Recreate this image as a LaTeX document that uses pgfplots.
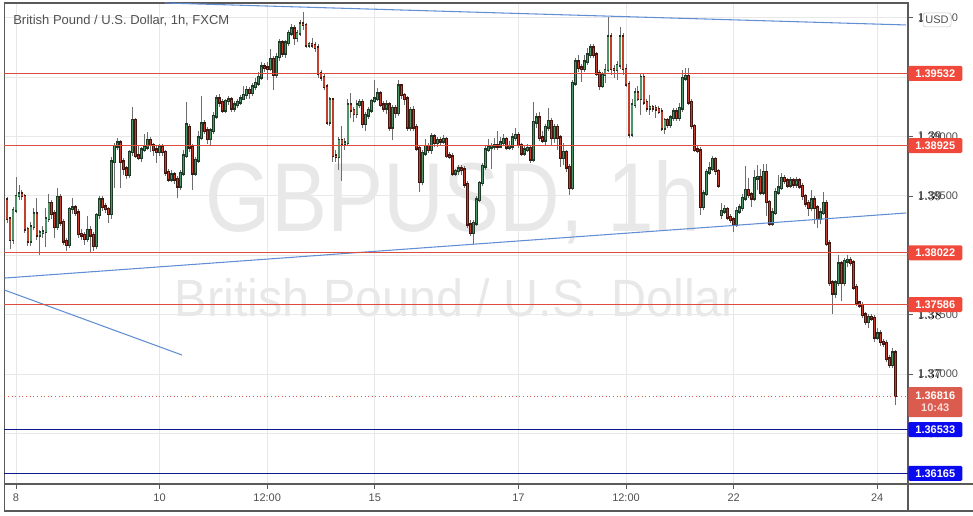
\documentclass[border=0pt]{standalone}
\usepackage{graphicx}
\usepackage{pgfplots}
\pgfplotsset{compat=1.18}
\usepackage{pgfplotstable}
\usepackage{fontspec}
\setmainfont{Liberation Sans}

\definecolor{upfill}{RGB}{76,150,104}
\definecolor{upedge}{RGB}{28,58,38}
\definecolor{dnfill}{RGB}{196,62,46}
\definecolor{dnedge}{RGB}{70,20,14}
\definecolor{wick}{RGB}{110,110,110}
\definecolor{srred}{RGB}{222,76,62}
\definecolor{boxred}{RGB}{240,72,58}
\definecolor{navyline}{RGB}{14,26,140}
\definecolor{boxblue}{RGB}{10,10,240}
\definecolor{trend}{RGB}{98,142,212}
\definecolor{lastbox}{RGB}{219,92,78}
\definecolor{txt}{RGB}{80,80,80}
\definecolor{framec}{RGB}{90,90,90}
\definecolor{gridc}{RGB}{232,232,232}
\definecolor{wmark}{RGB}{232,232,232}

\newcommand\lab{\fontsize{8.25}{9.9}\selectfont}

% hourly candles, x = hours from 8th 00:00 (weekends skipped)
\pgfplotstableread{
x o c hi lo
-3 1.3847 1.3831 1.3849 1.3827
-2 1.3831 1.3813 1.3832 1.3805
-1 1.3813 1.3838 1.3841 1.3810
0 1.3838 1.3850 1.3866 1.3836
1 1.3850 1.3852 1.3859 1.3847
2 1.3852 1.3850 1.3855 1.3847
3 1.3850 1.3822 1.3852 1.3819
4 1.3822 1.3812 1.3824 1.3808
5 1.3812 1.3824 1.3828 1.3808
6 1.3824 1.3835 1.3840 1.3821
7 1.3835 1.3817 1.3848 1.3813
8 1.3817 1.3819 1.3821 1.3800
9 1.3819 1.3820 1.3825 1.3815
10 1.3820 1.3831 1.3840 1.3807
11 1.3831 1.3844 1.3852 1.3828
12 1.3844 1.3835 1.3847 1.3831
13 1.3835 1.3824 1.3838 1.3815
14 1.3824 1.3849 1.3857 1.3821
15 1.3849 1.3828 1.3852 1.3825
16 1.3828 1.3812 1.3831 1.3809
17 1.3812 1.3809 1.3815 1.3804
18 1.3809 1.3839 1.3841 1.3806
19 1.3839 1.3840 1.3848 1.3835
20 1.3840 1.3836 1.3842 1.3833
21 1.3836 1.3818 1.3839 1.3815
22 1.3818 1.3817 1.3822 1.3813
23 1.3817 1.3814 1.3820 1.3809
24 1.3814 1.3821 1.3833 1.3811
25 1.3821 1.3817 1.3825 1.3802
26 1.3817 1.3808 1.3820 1.3804
27 1.3808 1.3834 1.3836 1.3805
28 1.3834 1.3847 1.3850 1.3831
29 1.3847 1.3841 1.3850 1.3837
30 1.3841 1.3839 1.3844 1.3836
31 1.3839 1.3835 1.3841 1.3827
32 1.3835 1.3879 1.3883 1.3831
33 1.3879 1.3892 1.3895 1.3857
34 1.3892 1.3895 1.3899 1.3889
35 1.3895 1.3879 1.3897 1.3857
36 1.3879 1.3873 1.3882 1.3868
37 1.3873 1.3868 1.3875 1.3864
38 1.3868 1.3887 1.3889 1.3865
39 1.3887 1.3914 1.3925 1.3884
40 1.3914 1.3884 1.3916 1.3882
41 1.3884 1.3882 1.3893 1.3880
42 1.3882 1.3889 1.3891 1.3879
43 1.3889 1.3891 1.3902 1.3887
44 1.3891 1.3897 1.3904 1.3889
45 1.3897 1.3893 1.3900 1.3887
46 1.3893 1.3889 1.3895 1.3884
47 1.3889 1.3887 1.3892 1.3878
48 1.3887 1.3891 1.3894 1.3884
49 1.3891 1.3887 1.3894 1.3884
50 1.3887 1.3870 1.3889 1.3867
51 1.3870 1.3864 1.3873 1.3862
52 1.3864 1.3868 1.3872 1.3862
53 1.3868 1.3864 1.3870 1.3860
54 1.3864 1.3858 1.3867 1.3848
55 1.3858 1.3869 1.3872 1.3855
56 1.3869 1.3884 1.3889 1.3867
57 1.3884 1.3910 1.3929 1.3882
58 1.3908 1.3891 1.3911 1.3887
59 1.3891 1.3869 1.3894 1.3855
60 1.3869 1.3880 1.3883 1.3867
61 1.3880 1.3899 1.3905 1.3878
62 1.3899 1.3911 1.3934 1.3897
63 1.3911 1.3905 1.3914 1.3902
64 1.3905 1.3898 1.3908 1.3894
65 1.3898 1.3905 1.3907 1.3892
66 1.3905 1.3917 1.3921 1.3902
67 1.3917 1.3932 1.3935 1.3915
68 1.3932 1.3929 1.3936 1.3925
69 1.3929 1.3922 1.3932 1.3920
70 1.3922 1.3930 1.3932 1.3920
71 1.3930 1.3931 1.3934 1.3927
72 1.3931 1.3924 1.3933 1.3921
73 1.3924 1.3927 1.3930 1.3921
74 1.3927 1.3929 1.3932 1.3924
75 1.3929 1.3932 1.3935 1.3927
76 1.3932 1.3935 1.3943 1.3931
77 1.3935 1.3939 1.3943 1.3932
78 1.3939 1.3937 1.3942 1.3932
79 1.3937 1.3942 1.3945 1.3934
80 1.3942 1.3945 1.3949 1.3939
81 1.3945 1.3950 1.3954 1.3943
82 1.3950 1.3959 1.3963 1.3948
83 1.3959 1.3958 1.3962 1.3954
84 1.3958 1.3957 1.3963 1.3948
85 1.3957 1.3965 1.3974 1.3955
86 1.3965 1.3952 1.3968 1.3939
87 1.3952 1.3967 1.3970 1.3949
88 1.3967 1.3979 1.3982 1.3964
89 1.3979 1.3970 1.3981 1.3967
90 1.3970 1.3979 1.3981 1.3966
91 1.3979 1.3987 1.3990 1.3976
92 1.3987 1.3991 1.3995 1.3985
93 1.3991 1.3983 1.3994 1.3977
94 1.3983 1.3987 1.3990 1.3980
95 1.3987 1.3995 1.3998 1.3985
96 1.3995 1.3994 1.4005 1.3990
97 1.3994 1.3977 1.3996 1.3975
98 1.3977 1.3978 1.3980 1.3975
99 1.3978 1.3977 1.3983 1.3975
100 1.3977 1.3975 1.3980 1.3971
101 1.3975 1.3953 1.3978 1.3949
102 1.3953 1.3950 1.3956 1.3947
103 1.3950 1.3942 1.3953 1.3939
104 1.3942 1.3912 1.3944 1.3910
105 1.3912 1.3931 1.3933 1.3909
106 1.3931 1.3884 1.3932 1.3879
107 1.3884 1.3883 1.3889 1.3879
108 1.3883 1.3897 1.3900 1.3872
109 1.3897 1.3894 1.3909 1.3863
110 1.3894 1.3895 1.3899 1.3889
111 1.3895 1.3927 1.3932 1.3892
112 1.3927 1.3922 1.3937 1.3916
113 1.3922 1.3919 1.3925 1.3912
114 1.3919 1.3927 1.3931 1.3916
115 1.3927 1.3929 1.3932 1.3924
116 1.3929 1.3911 1.3932 1.3907
117 1.3911 1.3918 1.3921 1.3905
118 1.3918 1.3922 1.3925 1.3915
119 1.3922 1.3930 1.3932 1.3920
120 1.3930 1.3932 1.3948 1.3928
121 1.3932 1.3936 1.3941 1.3930
122 1.3936 1.3927 1.3938 1.3925
123 1.3927 1.3924 1.3930 1.3921
124 1.3924 1.3927 1.3931 1.3919
125 1.3927 1.3908 1.3929 1.3905
126 1.3908 1.3924 1.3927 1.3897
127 1.3924 1.3920 1.3927 1.3916
128 1.3920 1.3943 1.3948 1.3917
129 1.3943 1.3935 1.3944 1.3932
130 1.3935 1.3932 1.3937 1.3927
131 1.3932 1.3908 1.3934 1.3905
132 1.3908 1.3922 1.3925 1.3905
133 1.3922 1.3908 1.3926 1.3905
134 1.3908 1.3890 1.3911 1.3888
135 1.3890 1.3862 1.3893 1.3853
136 1.3862 1.3886 1.3889 1.3859
137 1.3886 1.3892 1.3898 1.3884
138 1.3892 1.3889 1.3895 1.3886
139 1.3889 1.3900 1.3903 1.3885
140 1.3900 1.3895 1.3902 1.3891
141 1.3895 1.3897 1.3900 1.3891
142 1.3897 1.3896 1.3900 1.3892
143 1.3896 1.3898 1.3901 1.3894
144 1.3898 1.3884 1.3900 1.3882
145 1.3884 1.3883 1.3887 1.3881
146 1.3883 1.3869 1.3886 1.3867
147 1.3869 1.3871 1.3873 1.3867
148 1.3871 1.3873 1.3876 1.3868
149 1.3873 1.3872 1.3876 1.3868
150 1.3872 1.3860 1.3875 1.3857
151 1.3860 1.3826 1.3863 1.3823
152 1.3826 1.3819 1.3830 1.3816
153 1.3819 1.3827 1.3830 1.3810
154 1.3827 1.3847 1.3850 1.3825
155 1.3847 1.3861 1.3863 1.3845
156 1.3861 1.3875 1.3878 1.3858
157 1.3875 1.3889 1.3893 1.3872
158 1.3889 1.3891 1.3898 1.3887
159 1.3891 1.3892 1.3895 1.3873
160 1.3892 1.3893 1.3899 1.3889
161 1.3893 1.3892 1.3905 1.3889
162 1.3892 1.3895 1.3900 1.3890
163 1.3895 1.3898 1.3902 1.3892
164 1.3898 1.3891 1.3900 1.3889
165 1.3891 1.3892 1.3896 1.3889
166 1.3892 1.3899 1.3903 1.3889
167 1.3899 1.3901 1.3907 1.3896
168 1.3901 1.3893 1.3904 1.3890
169 1.3893 1.3886 1.3895 1.3884
170 1.3886 1.3889 1.3892 1.3884
171 1.3889 1.3890 1.3894 1.3887
172 1.3890 1.3881 1.3893 1.3878
173 1.3881 1.3912 1.3929 1.3879
174 1.3912 1.3916 1.3920 1.3907
175 1.3916 1.3899 1.3921 1.3896
176 1.3899 1.3897 1.3905 1.3895
177 1.3897 1.3908 1.3911 1.3893
178 1.3908 1.3913 1.3924 1.3905
179 1.3913 1.3899 1.3916 1.3893
180 1.3899 1.3908 1.3911 1.3895
181 1.3908 1.3899 1.3911 1.3889
182 1.3899 1.3882 1.3901 1.3874
183 1.3882 1.3887 1.3895 1.3876
184 1.3887 1.3874 1.3889 1.3870
185 1.3874 1.3857 1.3877 1.3851
186 1.3857 1.3945 1.3948 1.3855
187 1.3945 1.3963 1.3966 1.3943
188 1.3963 1.3958 1.3969 1.3954
189 1.3958 1.3957 1.3961 1.3946
190 1.3957 1.3963 1.3969 1.3954
191 1.3963 1.3969 1.3975 1.3960
192 1.3969 1.3975 1.3978 1.3966
193 1.3975 1.3969 1.3978 1.3966
194 1.3969 1.3953 1.3971 1.3951
195 1.3953 1.3943 1.3956 1.3939
196 1.3943 1.3952 1.3954 1.3941
197 1.3952 1.3956 1.3961 1.3945
198 1.3956 1.3984 1.4001 1.3954
199 1.3984 1.3957 1.3987 1.3952
200 1.3957 1.3956 1.3960 1.3949
201 1.3956 1.3960 1.3964 1.3948
202 1.3960 1.3984 1.3992 1.3957
203 1.3984 1.3957 1.3987 1.3952
204 1.3957 1.3944 1.3961 1.3942
205 1.3944 1.3902 1.3947 1.3899
206 1.3902 1.3927 1.3932 1.3900
207 1.3927 1.3937 1.3941 1.3924
208 1.3937 1.3932 1.3943 1.3930
209 1.3932 1.3950 1.3953 1.3918
210 1.3950 1.3929 1.3953 1.3927
211 1.3929 1.3924 1.3932 1.3921
212 1.3924 1.3925 1.3935 1.3918
213 1.3925 1.3924 1.3927 1.3921
214 1.3924 1.3923 1.3927 1.3916
215 1.3923 1.3921 1.3926 1.3919
216 1.3921 1.3907 1.3924 1.3905
217 1.3907 1.3914 1.3916 1.3902
218 1.3914 1.3910 1.3916 1.3907
219 1.3910 1.3916 1.3918 1.3907
220 1.3916 1.3921 1.3924 1.3913
221 1.3921 1.3916 1.3924 1.3913
222 1.3916 1.3924 1.3928 1.3913
223 1.3924 1.3949 1.3956 1.3921
224 1.3949 1.3951 1.3958 1.3947
225 1.3951 1.3929 1.3958 1.3927
226 1.3929 1.3909 1.3932 1.3906
227 1.3909 1.3889 1.3911 1.3887
228 1.3889 1.3888 1.3893 1.3886
229 1.3888 1.3841 1.3891 1.3834
230 1.3841 1.3852 1.3855 1.3838
231 1.3852 1.3870 1.3873 1.3850
232 1.3870 1.3873 1.3879 1.3868
233 1.3873 1.3881 1.3884 1.3871
234 1.3881 1.3871 1.3883 1.3868
235 1.3871 1.3859 1.3873 1.3857
236 1.3834 1.3837 1.3844 1.3831
237 1.3837 1.3839 1.3842 1.3835
238 1.3839 1.3832 1.3841 1.3830
239 1.3832 1.3830 1.3835 1.3827
240 1.3830 1.3826 1.3832 1.3820
241 1.3826 1.3837 1.3841 1.3824
242 1.3837 1.3840 1.3843 1.3835
243 1.3840 1.3848 1.3852 1.3837
244 1.3848 1.3855 1.3875 1.3846
245 1.3855 1.3851 1.3865 1.3848
246 1.3851 1.3848 1.3853 1.3841
247 1.3848 1.3865 1.3872 1.3846
248 1.3865 1.3866 1.3876 1.3855
249 1.3866 1.3853 1.3873 1.3851
250 1.3853 1.3870 1.3877 1.3851
251 1.3870 1.3845 1.3877 1.3833
252 1.3845 1.3827 1.3847 1.3825
253 1.3827 1.3836 1.3840 1.3825
254 1.3836 1.3853 1.3857 1.3834
255 1.3853 1.3857 1.3868 1.3851
256 1.3857 1.3865 1.3869 1.3855
257 1.3865 1.3863 1.3868 1.3860
258 1.3863 1.3859 1.3865 1.3857
259 1.3859 1.3863 1.3866 1.3857
260 1.3863 1.3860 1.3865 1.3857
261 1.3860 1.3863 1.3866 1.3857
262 1.3863 1.3858 1.3865 1.3856
263 1.3858 1.3850 1.3861 1.3847
264 1.3850 1.3844 1.3852 1.3841
265 1.3844 1.3840 1.3847 1.3833
266 1.3840 1.3847 1.3855 1.3837
267 1.3847 1.3840 1.3850 1.3826
268 1.3840 1.3831 1.3842 1.3823
269 1.3831 1.3836 1.3840 1.3826
270 1.3836 1.3844 1.3853 1.3834
271 1.3844 1.3810 1.3847 1.3808
272 1.3810 1.3777 1.3813 1.3774
273 1.3777 1.3768 1.3779 1.3751
274 1.3768 1.3777 1.3779 1.3764
275 1.3777 1.3793 1.3800 1.3774
276 1.3793 1.3777 1.3795 1.3762
277 1.3777 1.3795 1.3798 1.3774
278 1.3795 1.3796 1.3800 1.3790
279 1.3796 1.3794 1.3799 1.3791
280 1.3794 1.3773 1.3796 1.3771
281 1.3773 1.3760 1.3776 1.3757
282 1.3760 1.3758 1.3762 1.3756
283 1.3758 1.3750 1.3761 1.3747
284 1.3750 1.3744 1.3752 1.3741
285 1.3744 1.3748 1.3751 1.3739
286 1.3748 1.3747 1.3751 1.3745
287 1.3747 1.3731 1.3750 1.3727
288 1.3731 1.3734 1.3739 1.3729
289 1.3734 1.3727 1.3737 1.3724
290 1.3727 1.3726 1.3730 1.3723
291 1.3726 1.3713 1.3729 1.3710
292 1.3713 1.3708 1.3716 1.3705
293 1.3708 1.3718 1.3722 1.3705
294 1.3718 1.36816 1.3720 1.3674
}\candles

\def\xr{298.3}
\tikzset{
  scalelab/.style={anchor=west, text=txt, font=\lab, inner sep=0pt, xshift=7.5pt},
  redlab/.style={anchor=west, fill=boxred, text=white, font=\lab\bfseries,
    minimum width=40.5pt, minimum height=11.25pt, inner sep=0pt, rounded corners=1pt},
  bluelab/.style={redlab, fill=boxblue},
}

\begin{document}
\begin{tikzpicture}
\begin{axis}[
    at={(0,0)}, anchor=south west,
    scale only axis, width=677.625pt, height=360.75pt,
    xmin=-3.85, xmax=\xr, ymin=1.36075, ymax=1.40125,
    clip=false,
    axis line style={draw=framec, line width=0.8pt},
    xtick={0,48,84,120,168,204,240,288},
    xticklabels={8,10,12:00,15,17,12:00,22,24},
    ytick={1.365,1.370,1.375,1.380,1.385,1.390,1.395,1.400},
    yticklabel={},
    xtick pos=bottom, ytick pos=right,
    tick align=outside, major tick length=3.75pt,
    every tick/.style={draw=framec, line width=0.6pt},
    xticklabel style={font=\lab, text=txt},
    grid=major,
    major grid style={draw=gridc, line width=0.75pt},
]

% watermark
\node[anchor=base, text=wmark, inner sep=0pt] at (axis cs:146.2,1.38197)
  {\resizebox{371.25pt}{53.25pt}{GBPUSD, 1h}};
\node[anchor=base, text=wmark, inner sep=0pt] at (axis cs:147.3,1.37489)
  {\resizebox{422.25pt}{28.5pt}{British Pound / U.S. Dollar}};

% wicks
\addplot[draw=wick, mark=none,
  quiver={u=0, v=\thisrow{hi}-\thisrow{lo},
    every arrow/.append style={draw=wick, line width=0.75pt}}]
  table[x=x, y=lo] {\candles};

% bodies, up (open -> close)
\addplot[draw=upedge, mark=none,
  restrict expr to domain={\thisrow{c}-\thisrow{o}}{0:1},
  quiver={u=0, v=\thisrow{c}-\thisrow{o},
    every arrow/.append style={draw=upedge, line width=2.1pt, line cap=rect}}]
  table[x=x, y=o] {\candles};
\addplot[draw=upfill, mark=none,
  restrict expr to domain={\thisrow{c}-\thisrow{o}}{0:1},
  quiver={u=0, v=\thisrow{c}-\thisrow{o},
    every arrow/.append style={draw=upfill, line width=0.9pt}}]
  table[x=x, y=o] {\candles};
% bodies, down (close -> open)
\addplot[draw=dnedge, mark=none,
  restrict expr to domain={\thisrow{o}-\thisrow{c}}{0.00001:1},
  quiver={u=0, v=\thisrow{o}-\thisrow{c},
    every arrow/.append style={draw=dnedge, line width=2.1pt, line cap=rect}}]
  table[x=x, y=c] {\candles};
\addplot[draw=dnfill, mark=none,
  restrict expr to domain={\thisrow{o}-\thisrow{c}}{0.00001:1},
  quiver={u=0, v=\thisrow{o}-\thisrow{c},
    every arrow/.append style={draw=dnfill, line width=0.9pt}}]
  table[x=x, y=c] {\candles};

% trend lines
\addplot[draw=trend, line width=0.8pt, mark=none] coordinates {(49.8,1.40125) (297.7,1.39940)};
\addplot[draw=trend, line width=0.8pt, mark=none] coordinates {(-3.85,1.37809) (297.7,1.38357)};
\addplot[draw=trend, line width=0.8pt, mark=none] coordinates {(-3.85,1.37708) (55.5,1.37161)};

% support / resistance levels
\draw[srred, line width=0.8pt] (axis cs:-3.85,1.39532) -- (axis cs:298.3,1.39532);
\draw[srred, line width=0.8pt] (axis cs:-3.85,1.38925) -- (axis cs:298.3,1.38925);
\draw[srred, line width=0.8pt] (axis cs:-3.85,1.38022) -- (axis cs:298.3,1.38022);
\draw[srred, line width=0.8pt] (axis cs:-3.85,1.37586) -- (axis cs:298.3,1.37586);
\draw[navyline, line width=1.1pt] (axis cs:-3.85,1.36533) -- (axis cs:298.3,1.36533);
\draw[navyline, line width=1.1pt] (axis cs:-3.85,1.36165) -- (axis cs:298.3,1.36165);
\draw[lastbox, line width=0.7pt, dotted] (axis cs:-3.85,1.36816) -- (axis cs:298.3,1.36816);

% title
\node[anchor=west, text=txt, font=\fontsize{9.75}{11}\selectfont, inner sep=0pt]
  at (axis cs:-1.0,1.39973) {British Pound / U.S. Dollar, 1h, FXCM};

% price scale labels (others sit under the level boxes)
\node[scalelab] at (axis cs:298.3,1.400) {1.40000};
\node[scalelab] at (axis cs:298.3,1.390) {1.39000};
\node[scalelab] at (axis cs:298.3,1.385) {1.38500};
\node[scalelab] at (axis cs:298.3,1.375) {1.37500};
\node[scalelab] at (axis cs:298.3,1.370) {1.37000};

\node[fill=white, draw=gray!45, rounded corners=2pt, text=txt, font=\lab,
  minimum width=21pt, minimum height=10.5pt, inner sep=0pt]
  at (axis cs:308.0,1.39982) {USD};

\node[redlab] at (axis cs:298.3,1.39532) {1.39532};
\node[redlab] at (axis cs:298.3,1.38925) {1.38925};
\node[redlab] at (axis cs:298.3,1.38022) {1.38022};
\node[redlab] at (axis cs:298.3,1.37586) {1.37586};
\node[bluelab] at (axis cs:298.3,1.36533) {1.36533};
\node[bluelab] at (axis cs:298.3,1.36165) {1.36165};
\node[anchor=west, fill=lastbox, text=white, font=\lab\bfseries, align=center,
  minimum width=40.5pt, minimum height=22.5pt, inner sep=0pt, rounded corners=1pt]
  at (axis cs:298.3,1.36765) {1.36816\\[-1pt]{\color{white!80!lastbox}10:43}};
\end{axis}

% outer frame pieces
\draw[framec, line width=0.8pt] (0,0) -- (726.375pt,0);
\draw[framec, line width=0.8pt] (677.625pt,0) -- (677.625pt,-20.25pt);
\draw[framec, line width=0.8pt] (0,0) -- (0,-20.25pt) -- (726.375pt,-20.25pt);

\pgfresetboundingbox
\path[use as bounding box] (-3.375pt,-23.25pt) rectangle (726.375pt,363pt);
\end{tikzpicture}
\end{document}
